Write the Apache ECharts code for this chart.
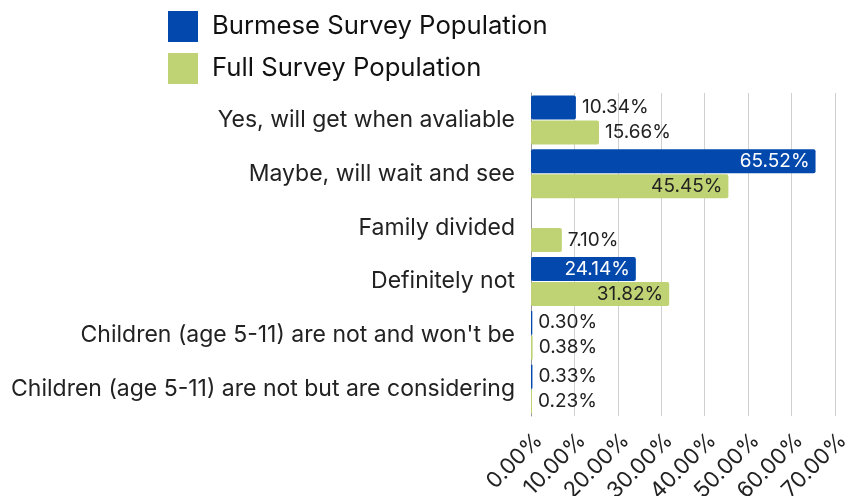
<!DOCTYPE html>
<html>
<head>
<meta charset="utf-8">
<style>
  html, body { margin: 0; padding: 0; background: #fff; }
  #chart { width: 853px; height: 496px; }
</style>
<script src="https://cdn.jsdelivr.net/npm/echarts@6/dist/echarts.min.js"></script>
</head>
<body>
<div id="chart"></div>
<script>
// Survey responses, listed top to bottom
const categories = [
  'Yes, will get when avaliable',
  'Maybe, will wait and see',
  'Family divided',
  'Definitely not',
  "Children (age 5-11) are not and won't be",
  'Children (age 5-11) are not but are considering'
];
const seriesNames = ['Burmese Survey Population', 'Full Survey Population'];
const burmese = [10.34, 65.52, 0, 24.14, 0.30, 0.33];
const fullSurvey = [15.66, 45.45, 7.10, 31.82, 0.38, 0.23];
const xTicks = { min: 0, max: 70, interval: 10 };

const FONT = 'Inter, "Noto Sans", sans-serif';
const BLUE = '#0349ad';
const GREEN = '#c0d374';

// Long bars carry their label inside, short ones beside the bar
function buildItems(values, insideColor) {
  return values.map(v => ({
    value: v,
    label: v > 20
      ? { position: 'insideRight', color: insideColor }
      : { position: 'right', color: '#222' }
  }));
}

const pct = p => p.value ? p.value.toFixed(2) + '%' : '';

const chart = echarts.init(document.getElementById('chart'), null, { renderer: 'canvas' });
chart.setOption({
  animation: false,
  textStyle: { fontFamily: FONT },
  legend: {
    orient: 'vertical',
    left: 163,
    top: 6,
    itemWidth: 30,
    itemHeight: 31,
    itemGap: 11,
    icon: 'rect',
    textStyle: { fontSize: 25.7, color: '#111', fontFamily: FONT, padding: [0, 0, 0, 9] },
    data: seriesNames
  },
  grid: { left: 531, right: 18, top: 93, bottom: 80, containLabel: false, outerBoundsMode: 'none' },
  xAxis: {
    type: 'value',
    min: xTicks.min,
    max: xTicks.max,
    interval: xTicks.interval,
    axisLine: { show: false },
    axisTick: { show: false },
    splitLine: { lineStyle: { color: '#d0d0d0', width: 1 } },
    axisLabel: {
      rotate: 45,
      fontSize: 22,
      color: '#222',
      fontFamily: FONT,
      margin: 13,
      align: 'right',
      verticalAlign: 'top',
      formatter: v => v.toFixed(2) + '%'
    }
  },
  yAxis: {
    type: 'category',
    inverse: true,
    data: categories,
    axisLine: { show: true, lineStyle: { color: '#9a9a9a', width: 1 } },
    axisTick: { show: false },
    axisLabel: { fontSize: 23, color: '#222', fontFamily: FONT, margin: 16, align: 'right', hideOverlap: false }
  },
  series: [
    {
      name: seriesNames[0],
      type: 'bar',
      data: buildItems(burmese, '#fff'),
      barWidth: 24,
      barGap: '4%',
      itemStyle: { color: BLUE, borderRadius: 2 },
      label: { show: true, fontSize: 19, fontFamily: FONT, formatter: pct, distance: 6 }
    },
    {
      name: seriesNames[1],
      type: 'bar',
      data: buildItems(fullSurvey, '#222'),
      barWidth: 24,
      itemStyle: { color: GREEN, borderRadius: 2 },
      label: { show: true, fontSize: 19, fontFamily: FONT, formatter: pct, distance: 6 }
    }
  ]
});
</script>
</body>
</html>
